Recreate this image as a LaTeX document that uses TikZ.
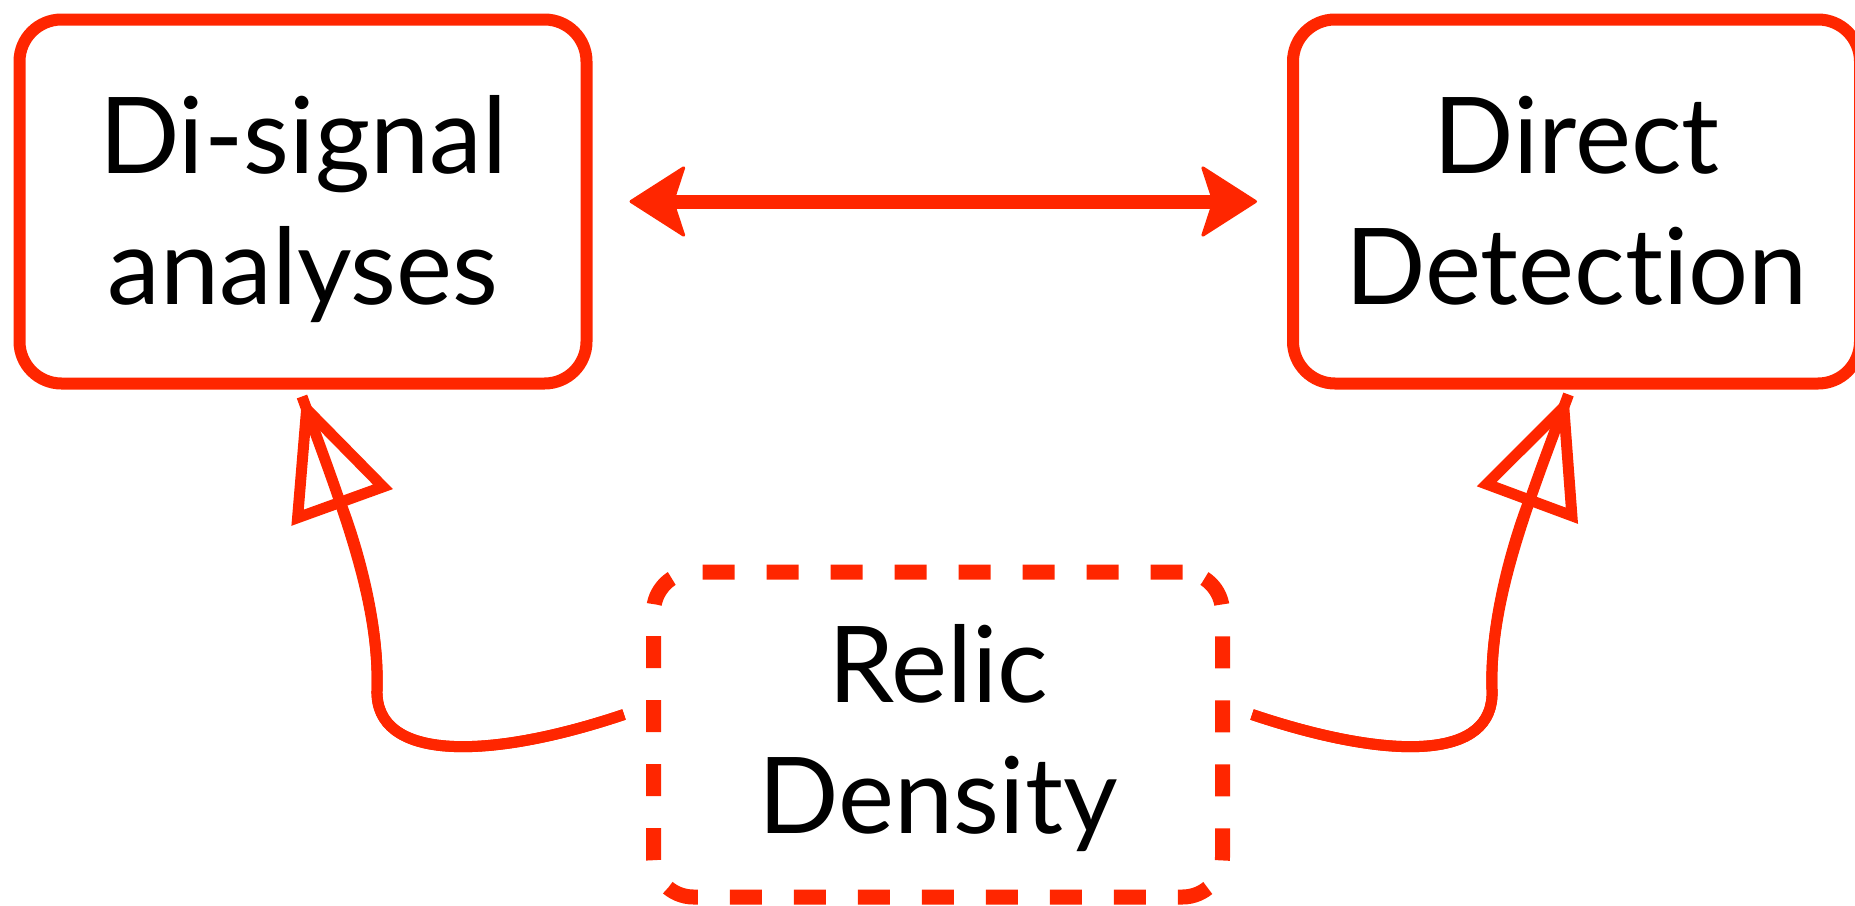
\documentclass[tikz,border=0pt]{standalone}
\usepackage{fontspec}
\setmainfont{Lato}[Ligatures=NoCommon]
\usetikzlibrary{arrows.meta,calc}
\definecolor{keyred}{HTML}{FF2600}
% invisible rules that fix the height of the first line and the depth of the last
\newcommand\linetop{\rule{0pt}{100pt}}
\newcommand\linebot[1]{\rule[-#1]{0pt}{#1}}
\begin{document}
\begin{tikzpicture}[x=1pt,y=-1pt,
  bigtext/.style={align=center, font=\fontsize{106}{131}\selectfont},
  solidbox/.style={bigtext, draw=keyred, line width=12pt, rounded corners=42pt,
    minimum width=567pt, minimum height=364pt, inner sep=0pt},
  dashbox/.style={bigtext, draw=keyred, line width=15pt, rounded corners=40pt,
    dash pattern=on 32pt off 32pt, minimum width=569pt, minimum height=325pt, inner sep=0pt},
  twoway/.style={draw=keyred, line width=14pt,
    arrows={Stealth[length=58pt,width=74pt,inset=12pt,round,line width=3pt]-Stealth[length=58pt,width=74pt,inset=12pt,round,line width=3pt]}},
  feed/.style={draw=keyred, line width=11pt,
    postaction={draw=keyred, arrows={-Triangle[open,length=118pt,width=105pt,line width=11pt]}}}
]
\useasboundingbox (0,0) rectangle (1855,905);

% the three boxes
\node[solidbox] (disig)  at (303,201.5)   {\linetop Di-signal\\analyses\linebot{25pt}};
\node[solidbox] (direct) at (1576.5,201.5) {\linetop Direct\\Detection\linebot{25pt}};
\node[dashbox]  (relic)  at (938,734.5)   {\linetop Relic\\Density\linebot{34pt}};

% two-way link between the upper boxes
\draw[twoway, shorten <=37pt, shorten >=30pt] (disig.east) -- (direct.west);

% ends and bends of the curved feeds
\coordinate (lstart) at ($(relic.west)+(-22,-20)$);
\coordinate (rstart) at ($(relic.east)+(22,-20)$);
\coordinate (lbend)  at (377,690);
\coordinate (rbend)  at (1492,690);
\coordinate (ltip)   at ($(disig.south)+(-1,7)$);
\coordinate (rtip)   at ($(direct.south)+(-8,5)$);

\draw[feed] (lstart) .. controls +(-140,47) and +(-2,70) .. (lbend)
                     .. controls +(3,-90) and +(38,105) .. (ltip);
\draw[feed] (rstart) .. controls +(140,47) and +(3,70) .. (rbend)
                     .. controls +(-3,-90) and +(-39,105) .. (rtip);
\end{tikzpicture}
\end{document}
